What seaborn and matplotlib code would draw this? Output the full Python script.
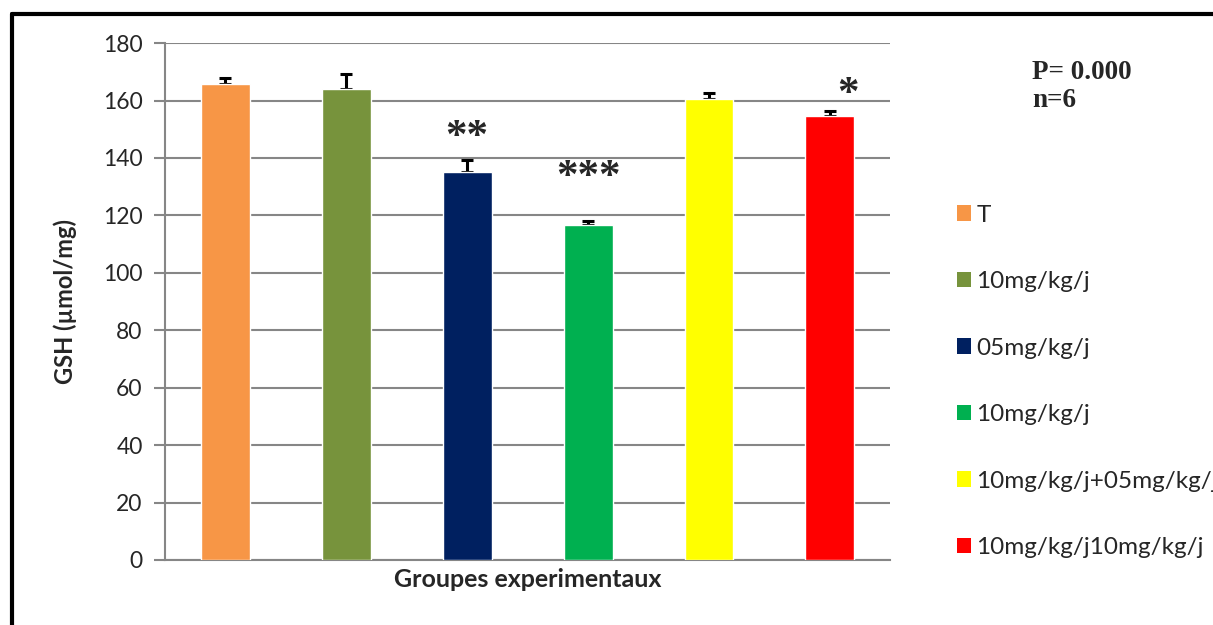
import matplotlib
matplotlib.use("Agg")
import matplotlib.pyplot as plt
from matplotlib.patches import Patch
import seaborn as sns
import pandas as pd

groups = ["T", "G1", "G2", "G3", "G4", "G5"]
legend_labels = ["T", "10mg/kg/j", "05mg/kg/j", "10mg/kg/j",
                 "10mg/kg/j+05mg/kg/j", "10mg/kg/j10mg/kg/j"]
gsh_means = [165.8, 164.0, 135.2, 116.6, 160.5, 154.6]
gsh_sem = [2.0, 5.2, 4.1, 1.5, 2.0, 1.8]
signif = ["", "", "**", "***", "", "*"]
colors = ["#F79646", "#77933C", "#002060", "#00B050", "#FFFF00", "#FF0000"]

sns.set_style("white")
plt.rcParams["font.family"] = ["Lato", "DejaVu Sans"]

df = pd.DataFrame({"group": groups, "gsh": gsh_means})

fig = plt.figure(figsize=(12.13, 6.25), dpi=100)
ax = fig.add_axes([0.136, 0.104, 0.598, 0.827])

sns.barplot(data=df, x="group", y="gsh", hue="group", palette=colors,
            width=0.405, legend=False, saturation=1, ax=ax, zorder=3)

# upper error bars only
xs = list(range(len(groups)))
ax.errorbar(xs, gsh_means, yerr=[[0] * len(gsh_sem), gsh_sem], fmt="none",
            ecolor="black", elinewidth=2.2, capsize=4.5, capthick=2.2, zorder=2)

# significance stars
star_offsets = [0, 0, 0, 0, 0, 0.15]
star_heights = [0, 0, 147, 133, 0, 162]
for i, s in enumerate(signif):
    if s:
        ax.text(i + star_offsets[i], star_heights[i], s, ha="center", va="center",
                fontsize=31, fontweight="bold", family="Liberation Serif")

ax.set_ylim(0, 180)
ax.set_yticks(range(0, 181, 20))
ax.set_xlim(-0.5, 5.5)
ax.set_xticks([])
ax.yaxis.grid(True, color="#868686", linewidth=1.5, zorder=0)
ax.set_axisbelow(True)
for side in ["top", "right"]:
    ax.spines[side].set_visible(False)
for side in ["left", "bottom"]:
    ax.spines[side].set_color("#868686")
    ax.spines[side].set_linewidth(1.5)
ax.tick_params(axis="y", which="both", left=True, length=8, width=1.5,
               color="#868686", labelsize=16.5, pad=8)
ax.set_xlabel("Groupes experimentaux", fontsize=18, fontweight="bold", labelpad=6)
ax.set_ylabel("GSH (µmol/mg)", fontsize=17, fontweight="bold", labelpad=19)

handles = [Patch(facecolor=c, edgecolor="none") for c in colors]
fig.legend(handles, legend_labels, loc="upper left",
           bbox_to_anchor=(0.7806, 0.688), frameon=False, fontsize=17.5,
           handlelength=0.6, handleheight=0.6, handletextpad=0.22,
           labelspacing=1.87, borderaxespad=0)

fig.text(0.851, 0.861, "P= 0.000\nn=6", fontsize=19.5, fontweight="bold",
         family="Liberation Serif", va="center", ha="left", linespacing=1.15)

# outer frame
fig.add_artist(plt.Line2D([0.0095, 0.0095], [-0.1, 0.977], color="black",
                          linewidth=3, transform=fig.transFigure))
fig.add_artist(plt.Line2D([0.0095, 1.1], [0.977, 0.977], color="black",
                          linewidth=3, transform=fig.transFigure))

fig.savefig("out.png", dpi=100)
